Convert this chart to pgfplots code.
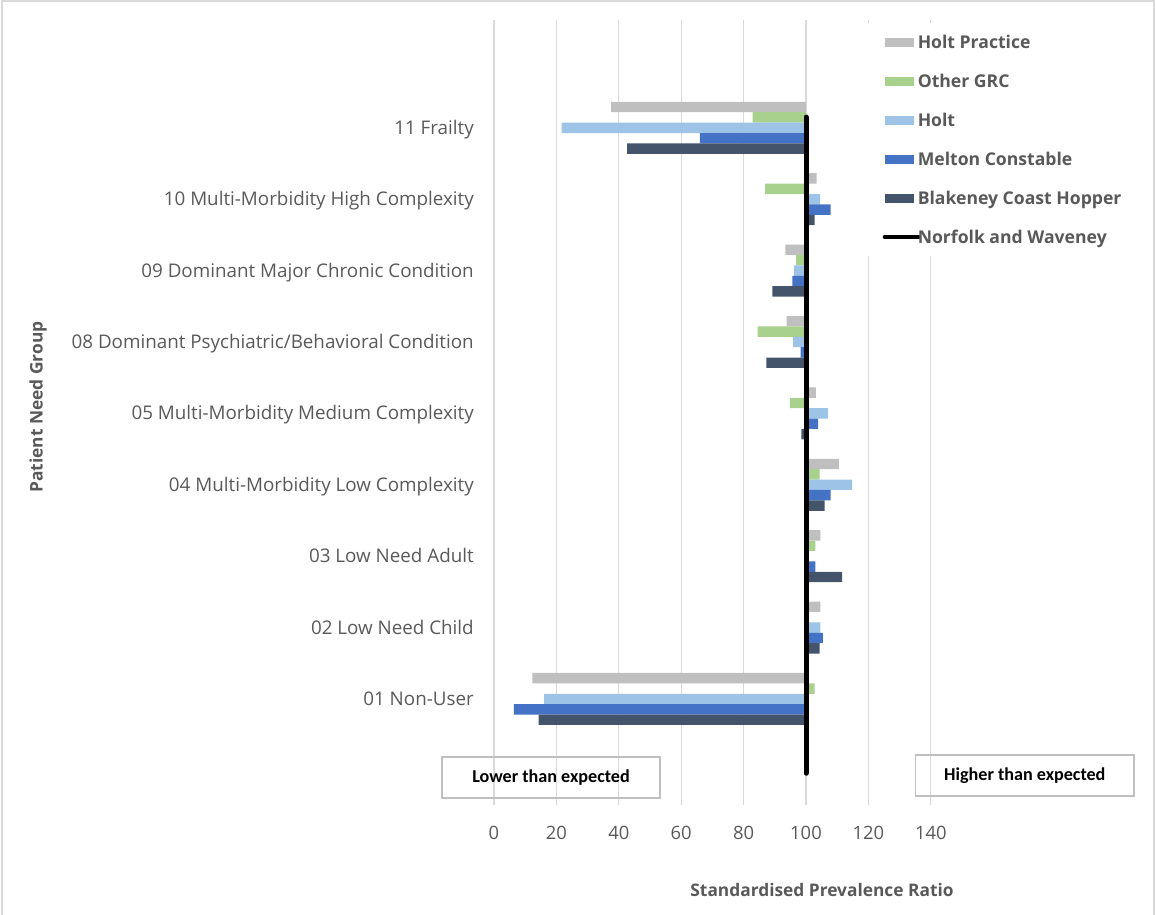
\documentclass[border=0pt]{standalone}
\usepackage{pgfplots}
\pgfplotsset{compat=1.18}
\usepackage{pgfplotstable}
\usepackage{fontspec}
\setmainfont{Open Sans}
\newfontfamily\calibri{Carlito}

\definecolor{cHP}{HTML}{BFBFBF}
\definecolor{cOG}{HTML}{A9D18E}
\definecolor{cHolt}{HTML}{9DC3E6}
\definecolor{cMC}{HTML}{4472C4}
\definecolor{cBCH}{HTML}{44546A}
\definecolor{txt}{HTML}{595959}
\definecolor{grd}{HTML}{D9D9D9}
\definecolor{boxc}{HTML}{BFBFBF}

\pgfplotstableread{
idx hp og holt mc bch
0 12.3 102.8 16.1 6.4 14.3
1 104.6 101.0 104.6 105.4 104.4
2 104.6 103.0 100.0 103.0 111.6
3 110.5 104.4 114.8 107.9 106.0
4 103.2 94.9 107.0 103.9 98.5
5 93.8 84.5 95.9 98.3 87.3
6 93.4 96.8 96.2 95.6 89.2
7 103.4 86.9 104.5 107.9 102.8
8 37.5 82.9 21.7 66.0 42.7
}\spr

\pgfplotstableread{
x y
100 8.15
100 -1.04
}\nw

\pgfplotsset{
  barleg/.style={legend image code/.code={\fill[##1] (0pt,-3.5pt) rectangle (21.75pt,3.5pt);}},
  mybar/.style={xbar, bar width=0.1456, draw=none, barleg},
}

\begin{document}
\begin{tikzpicture}
\useasboundingbox (0pt,0pt) rectangle (867pt,-685.5pt);
\draw[grd, line width=1.1pt] (1.5pt,-690pt) -- (1.5pt,-0.75pt) -- (865.5pt,-0.75pt) -- (865.5pt,-690pt);
\begin{axis}[
  scale only axis,
  width=327.6pt, height=588.75pt,
  at={(370.5pt,-603.75pt)}, anchor=south west,
  xmin=-100, xmax=40, ymin=-1.485, ymax=9.51,
  axis line style={draw=none},
  tick style={draw=none},
  major tick length=0pt,
  xmajorgrids,
  grid style={grd, line width=0.9pt},
  xtick={-100,-80,-60,-40,-20,0,20,40},
  xticklabels={0,20,40,60,80,100,120,140},
  ytick={0,1,2,3,4,5,6,7,8},
  yticklabels={01 Non-User,02 Low Need Child,03 Low Need Adult,04 Multi-Morbidity Low Complexity,05 Multi-Morbidity Medium Complexity,08 Dominant Psychiatric/Behavioral Condition,09 Dominant Major Chronic Condition,10 Multi-Morbidity High Complexity,11 Frailty},
  xticklabel style={font=\fontsize{13.8}{16}\selectfont, text=txt, anchor=center, yshift=-21pt},
  yticklabel style={font=\fontsize{14.1}{16}\selectfont, text=txt, anchor=east, inner sep=0pt, xshift=-15pt, text height=9.9pt, text depth=0pt},
  legend style={at={(0.832,0.9964)}, anchor=north west, draw=none, fill=white,
    inner xsep=18.75pt, inner ysep=9.4pt,
    font=\bfseries\fontsize{13.2}{16}\selectfont, text=txt,
    row sep=19.2pt,
    cells={anchor=west},
    nodes={inner sep=0pt, text depth=0pt},
    /tikz/every odd column/.append style={column sep=-2.2pt}},
]
\addplot[mybar, bar shift=0.2913, fill=cHP] table[x expr=\thisrow{hp}-100, y=idx] {\spr};
\addlegendentry{Holt Practice}
\addplot[mybar, bar shift=0.1456, fill=cOG] table[x expr=\thisrow{og}-100, y=idx] {\spr};
\addlegendentry{Other GRC}
\addplot[mybar, bar shift=0, fill=cHolt] table[x expr=\thisrow{holt}-100, y=idx] {\spr};
\addlegendentry{Holt}
\addplot[mybar, bar shift=-0.1456, fill=cMC] table[x expr=\thisrow{mc}-100, y=idx] {\spr};
\addlegendentry{Melton Constable}
\addplot[mybar, bar shift=-0.2913, fill=cBCH] table[x expr=\thisrow{bch}-100, y=idx] {\spr};
\addlegendentry{Blakeney Coast Hopper}
\addplot[black, line width=3.75pt, line cap=round, mark=none,
  legend image code/.code={\draw[black, line width=3pt, line cap=round] (0pt,0pt) -- (25.5pt,0pt);}]
  table[x expr=\thisrow{x}-100, y=y] {\nw};
\addlegendentry{Norfolk and Waveney}
\end{axis}
\node[rotate=90, font=\bfseries\fontsize{13}{15}\selectfont, text=txt] at (28.5pt,-305.25pt) {Patient Need Group};
\node[font=\bfseries\fontsize{13}{15}\selectfont, text=txt] at (616.5pt,-667.5pt) {Standardised Prevalence Ratio};
\node[draw=boxc, line width=0.9pt, minimum width=163.5pt, minimum height=30.75pt, inner sep=0pt, font=\calibri\bfseries\fontsize{13.6}{15}\selectfont] at (413.25pt,-583.1pt) {Lower than expected};
\node[draw=boxc, line width=0.9pt, minimum width=163.9pt, minimum height=30.75pt, inner sep=0pt, font=\calibri\bfseries\fontsize{13.6}{15}\selectfont] at (768.6pt,-581.6pt) {Higher than expected};
\end{tikzpicture}
\end{document}
